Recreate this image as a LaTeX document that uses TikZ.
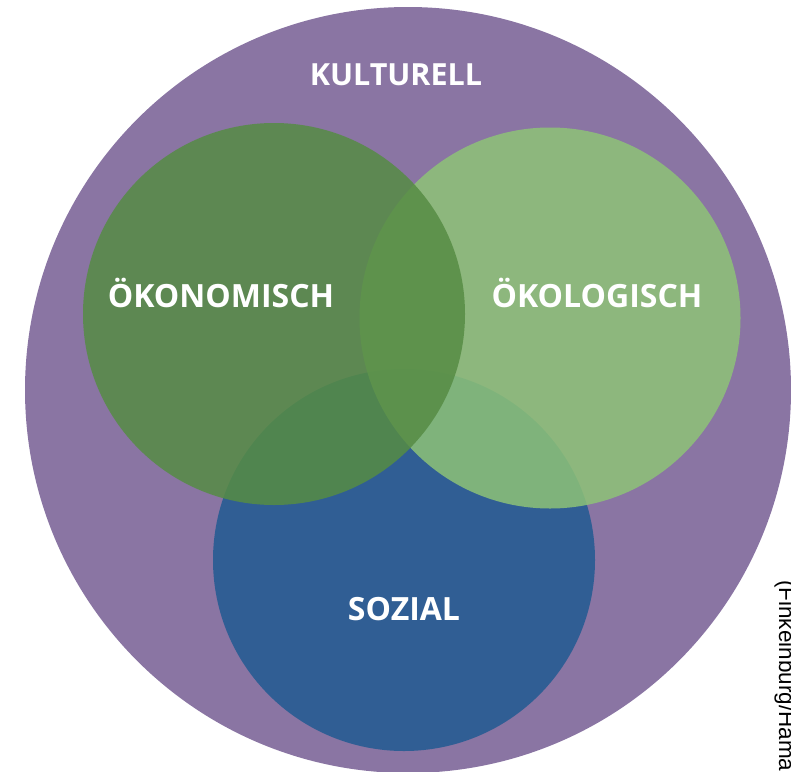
\documentclass[tikz,border=0pt]{standalone}
\usepackage{fontspec}
\setmainfont{Open Sans}
\newfontfamily\srcfont{Liberation Sans}
\definecolor{kultc}{RGB}{138,117,163}
\definecolor{sozc}{RGB}{48,94,148}
\definecolor{oekonc}{RGB}{86,140,68}
\definecolor{oekolc}{RGB}{142,195,119}
\begin{document}
\begin{tikzpicture}[x=1pt,y=-1pt,
  disc/.style={circle, draw=none, inner sep=0pt, outer sep=0pt},
  lbl/.style={text=white, font=\fontsize{32}{36}\selectfont\bfseries, inner sep=0pt}]
\useasboundingbox (0,0) rectangle (791,771);
\clip (0,0) rectangle (791,771);
\node[disc, fill=kultc, minimum size=766pt] (kulturell) at (408,390) {};
\node[disc, fill=sozc, minimum size=382pt] (sozial) at (404,560) {};
\node[disc, fill=oekolc, opacity=0.85, minimum size=381pt] (oekologisch) at (550,318) {};
\node[disc, fill=oekonc, opacity=0.85, minimum size=382pt] (oekonomisch) at (274,314) {};
\node[lbl, font=\fontsize{30.5}{34}\selectfont\bfseries] (tkult) at (396,75) {KULTURELL};
\node[lbl] (toekon) at (221,293) {ÖKONOMISCH};
\node[lbl] (toekol) at (597,293) {ÖKOLOGISCH};
\node[lbl] (tsoz) at (404,609) {SOZIAL};
\node[anchor=base west, rotate=-90, inner sep=0pt, font=\srcfont\fontsize{22.5}{26}\selectfont] (src) at (779,580) {(Finkeinburg/Hamann};
\end{tikzpicture}
\end{document}
